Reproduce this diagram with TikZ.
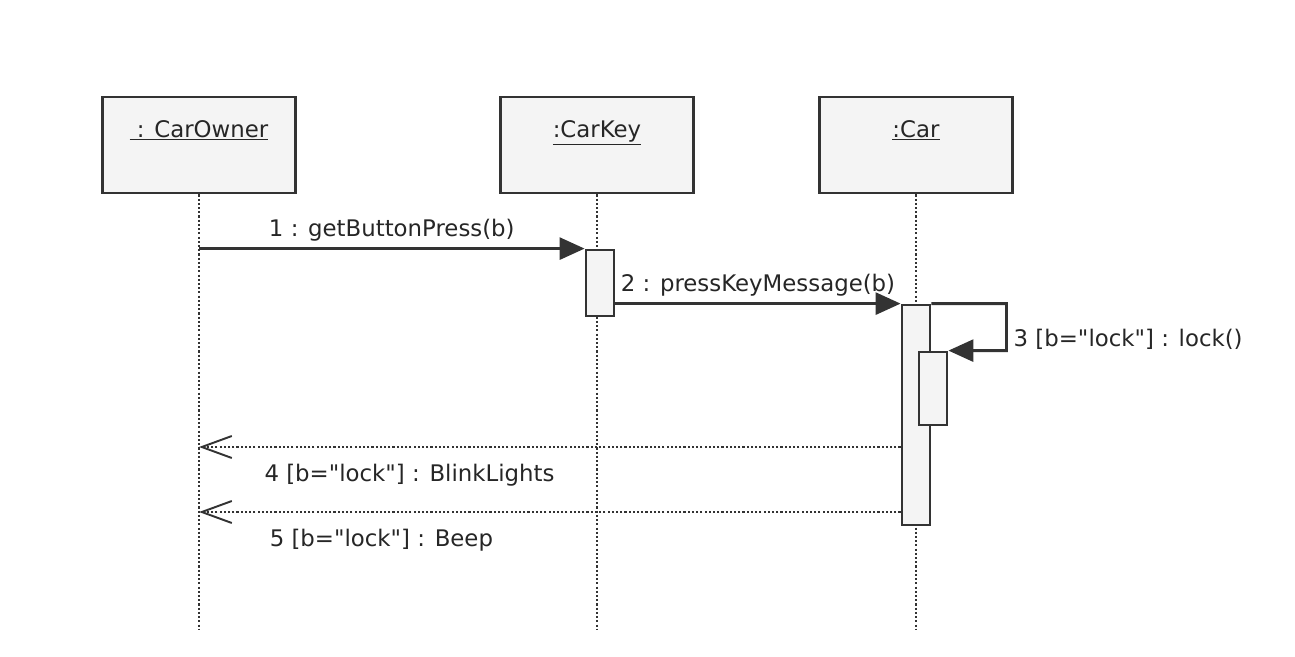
\documentclass[tikz,border=0pt]{standalone}
\usepackage{fontspec}
\setmainfont{DejaVu Sans}
\usetikzlibrary{arrows.meta,positioning}

\definecolor{linegray}{HTML}{333333}
\definecolor{boxgray}{HTML}{F4F4F4}
\definecolor{textgray}{HTML}{262626}

\begin{document}
\begin{tikzpicture}[x=0.02cm,y=-0.02cm,font=\fontsize{13}{15}\selectfont,text=textgray,
		>={Triangle[length=5mm,width=4.4mm]}]
		\tikzstyle{object}=[rectangle, draw=linegray, fill=boxgray, line width=1.6pt, minimum width=3.86cm, inner sep=0pt, text height=0.8cm, text depth=1.12cm]
		\tikzstyle{activation}=[rectangle, draw=linegray, fill=boxgray, line width=1.6pt, minimum width=0.56cm, inner sep=0pt]
		\tikzstyle{lifeline}=[draw=linegray, line width=1.2pt, dash pattern=on 1.2pt off 1.2pt]
		\tikzstyle{call}=[->, draw=linegray, line width=1.6pt]
		\tikzstyle{reply}=[-{Straight Barb[length=6mm,width=4.4mm,line width=1.1pt]}, draw=linegray, line width=1.2pt, dash pattern=on 1.2pt off 1.2pt]

		\useasboundingbox (0,0) rectangle (1295,656);

		% objects
		\node [object] (owner) at (199,145) {\underline{~: CarOwner}};
		\node [object] (key) at (597,145) {\underline{:CarKey}};
		\node [object] (car) at (916,145) {\underline{:Car}};

		% time marks
		\coordinate (bottom) at (0,630);
		\coordinate (t4) at (0,447);
		\coordinate (t5) at (0,512);

		% lifelines
		\draw [lifeline] (owner.south) -- (owner.south |- bottom);
		\draw [lifeline] (key.south) -- (key.south |- bottom);
		\draw [lifeline] (car.south) -- (car.south |- bottom);

		% activations
		\node [activation, minimum height=1.32cm] (keyact) at (600,283) {};
		\node [activation, minimum height=4.4cm] (caract) at (916,415) {};
		\node [activation, minimum height=1.46cm] (lockact) at (933,388.5) {};

		% messages
		\draw [call] (owner.south |- keyact.north) -- (keyact.north west)
			node [midway, above] {1 : getButtonPress(b)};
		\draw [call] (keyact.east |- caract.north) -- (caract.north west)
			node [midway, above] {2 : pressKeyMessage(b)};
		\draw [call] (caract.north east) -- ++(75,0) -- ++(0,47)
			node [pos=0.77, right] {3 [b=\textquotedbl lock\textquotedbl] : lock()} -- (lockact.north east);
		\draw [reply] (caract.west |- t4) -- (owner.south |- t4)
			node [pos=0.7, below=6pt] {4 [b=\textquotedbl lock\textquotedbl] : BlinkLights};
		\draw [reply] (caract.west |- t5) -- (owner.south |- t5)
			node [pos=0.74, below=6pt] {5 [b=\textquotedbl lock\textquotedbl] : Beep};
	\end{tikzpicture}
\end{document}
